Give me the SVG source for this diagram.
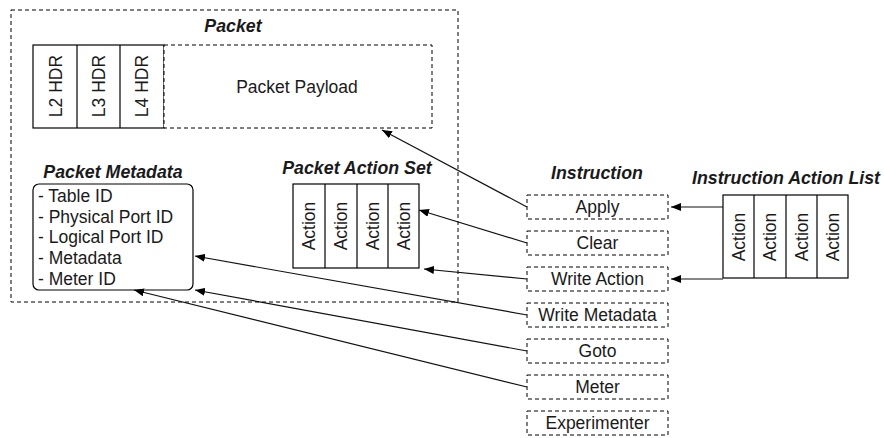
<svg xmlns="http://www.w3.org/2000/svg" width="884" height="438" viewBox="0 0 884 438">
<style>
text{font-family:"Liberation Sans",Arial,sans-serif;font-size:17.5px;fill:#1a1a1a}
.t{font-weight:bold;font-style:italic;font-size:17.8px;text-anchor:middle}
.c{text-anchor:middle}
.dash{fill:#fff;stroke:#000;stroke-width:1;stroke-dasharray:4 3}
.solid{fill:#fff;stroke:#000;stroke-width:1.2}
.conn line{stroke:#111;stroke-width:1.2;marker-end:url(#ah)}
</style>
<defs>
<marker id="ah" viewBox="0 0 10 8" refX="10" refY="4" markerWidth="10" markerHeight="8" markerUnits="userSpaceOnUse" orient="auto">
<path d="M0,0L10,4L0,8z" fill="#000"/>
</marker>
</defs>
<g id="packet">
<rect class="dash" x="11" y="10" width="447" height="292"/>
<text class="t" x="233" y="32">Packet</text>
</g>
<g id="headers">
<rect class="solid" x="33" y="45" width="131" height="83"/>
<line x1="77" y1="45" x2="77" y2="128" stroke="#000" stroke-width="1.2"/>
<line x1="120" y1="45" x2="120" y2="128" stroke="#000" stroke-width="1.2"/>
<text class="c" transform="translate(61.500,86) rotate(-90)">L2 HDR</text>
<text class="c" transform="translate(104.500,86) rotate(-90)">L3 HDR</text>
<text class="c" transform="translate(148,86) rotate(-90)">L4 HDR</text>
</g>
<g id="payload">
<rect class="dash" x="164" y="45" width="268" height="83"/>
<text class="c" x="297" y="92.500">Packet Payload</text>
</g>
<g id="metadata">
<text class="t" x="113" y="178">Packet Metadata</text>
<rect class="solid" x="33" y="184" width="160" height="106" rx="6"/>
<text x="38" y="202">- Table ID</text>
<text x="38" y="222.500">- Physical Port ID</text>
<text x="38" y="243">- Logical Port ID</text>
<text x="38" y="263.500">- Metadata</text>
<text x="38" y="284.500">- Meter ID</text>
</g>
<g id="actionset">
<text class="t" x="357" y="174">Packet Action Set</text>
<rect class="solid" x="293" y="184" width="126" height="84"/>
<line x1="325" y1="184" x2="325" y2="268" stroke="#000" stroke-width="1.2"/>
<line x1="357" y1="184" x2="357" y2="268" stroke="#000" stroke-width="1.2"/>
<line x1="388" y1="184" x2="388" y2="268" stroke="#000" stroke-width="1.2"/>
<text class="c" transform="translate(315,226) rotate(-90)">Action</text>
<text class="c" transform="translate(347,226) rotate(-90)">Action</text>
<text class="c" transform="translate(378.500,226) rotate(-90)">Action</text>
<text class="c" transform="translate(409.500,226) rotate(-90)">Action</text>
</g>
<g id="instruction">
<text class="t" x="597" y="179">Instruction</text>
</g>
<g id="apply"><rect class="dash" x="527" y="195" width="141" height="24"/><text class="c" x="597.500" y="213">Apply</text></g>
<g id="clear"><rect class="dash" x="527" y="231" width="141" height="24"/><text class="c" x="597.500" y="249">Clear</text></g>
<g id="writeaction"><rect class="dash" x="527" y="267" width="141" height="24"/><text class="c" x="597.500" y="285">Write Action</text></g>
<g id="writemetadata"><rect class="dash" x="527" y="303" width="141" height="24"/><text class="c" x="597.500" y="321">Write Metadata</text></g>
<g id="goto"><rect class="dash" x="527" y="339" width="141" height="24"/><text class="c" x="597.500" y="357">Goto</text></g>
<g id="meter"><rect class="dash" x="527" y="375" width="141" height="24"/><text class="c" x="597.500" y="393">Meter</text></g>
<g id="experimenter"><rect class="dash" x="527" y="411" width="141" height="24"/><text class="c" x="597.500" y="429">Experimenter</text></g>
<g id="actionlist">
<text class="t" x="786" y="184">Instruction Action List</text>
<rect class="solid" x="723" y="195" width="125" height="83"/>
<line x1="754" y1="195" x2="754" y2="278" stroke="#000" stroke-width="1.2"/>
<line x1="786" y1="195" x2="786" y2="278" stroke="#000" stroke-width="1.2"/>
<line x1="817" y1="195" x2="817" y2="278" stroke="#000" stroke-width="1.2"/>
<text class="c" transform="translate(744.500,237) rotate(-90)">Action</text>
<text class="c" transform="translate(776,237) rotate(-90)">Action</text>
<text class="c" transform="translate(807.500,237) rotate(-90)">Action</text>
<text class="c" transform="translate(838.500,237) rotate(-90)">Action</text>
</g>
<g id="connectors" class="conn">
<line x1="527" y1="207" x2="382" y2="130"/>
<line x1="527" y1="243" x2="419" y2="210"/>
<line x1="527" y1="279" x2="424" y2="269"/>
<line x1="527" y1="315" x2="195" y2="256"/>
<line x1="527" y1="351" x2="195" y2="290"/>
<line x1="527" y1="387" x2="134" y2="290"/>
<line x1="723" y1="207" x2="671" y2="207"/>
<line x1="723" y1="279" x2="671" y2="279"/>
</g>
</svg>
